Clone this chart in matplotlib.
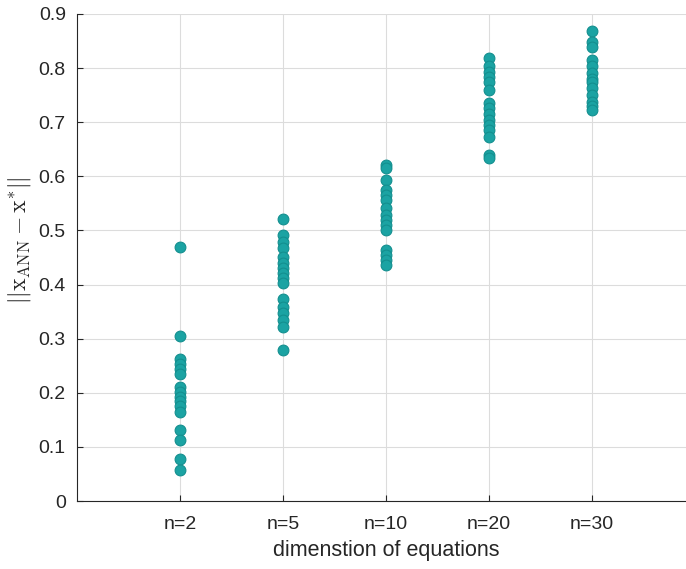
import matplotlib
matplotlib.use("Agg")
import matplotlib.pyplot as plt
import numpy as np

plt.rcParams["font.family"] = ["Liberation Sans", "DejaVu Sans"]
plt.rcParams["mathtext.fontset"] = "cm"

categories = ["n=2", "n=5", "n=10", "n=20", "n=30"]

err_n2 = [0.470, 0.305, 0.262, 0.254, 0.244, 0.234, 0.211, 0.202, 0.193,
          0.185, 0.176, 0.165, 0.131, 0.113, 0.077, 0.057]
err_n5 = [0.522, 0.492, 0.479, 0.467, 0.451, 0.439, 0.430, 0.421, 0.412,
          0.402, 0.373, 0.359, 0.347, 0.334, 0.322, 0.279]
err_n10 = [0.621, 0.615, 0.593, 0.575, 0.566, 0.556, 0.541, 0.529, 0.519,
           0.510, 0.501, 0.464, 0.455, 0.445, 0.436]
err_n20 = [0.818, 0.803, 0.793, 0.784, 0.775, 0.760, 0.735, 0.726, 0.716,
           0.704, 0.695, 0.686, 0.673, 0.640, 0.633]
err_n30 = [0.868, 0.848, 0.838, 0.815, 0.803, 0.790, 0.780, 0.775, 0.763,
           0.750, 0.738, 0.730, 0.723]

series = [err_n2, err_n5, err_n10, err_n20, err_n30]

fig = plt.figure(figsize=(6.86, 5.69), dpi=100)
ax = fig.add_axes([0.1122, 0.1195, 0.901, 0.856])

for i, vals in enumerate(series):
    ax.scatter(np.full(len(vals), i + 1), vals, s=60, color="#1ba3a3",
               edgecolor="#138f8f", linewidth=0.8, zorder=3)

ax.set_xlim(0, 6)
ax.set_ylim(0, 0.9)
ax.set_xticks(range(1, 6))
ax.set_xticklabels(categories)
ax.set_yticks(np.arange(0, 0.91, 0.1))
ax.set_yticklabels(["0", "0.1", "0.2", "0.3", "0.4", "0.5", "0.6", "0.7", "0.8", "0.9"])
ax.tick_params(direction="in", labelsize=14, colors="#262626", length=4)
ax.tick_params(axis="y", pad=8)
ax.tick_params(axis="x", pad=11)
ax.grid(True, color="#dcdcdc", linewidth=0.8, zorder=0)
ax.set_axisbelow(True)
for side in ["left", "bottom"]:
    ax.spines[side].set_color("#262626")
    ax.spines[side].set_linewidth(0.8)
for side in ["top", "right"]:
    ax.spines[side].set_visible(False)

ax.set_xlabel("dimenstion of equations", fontsize=15.5, color="#262626",
              labelpad=5)
ax.set_ylabel(r"$||\mathrm{x}_{\mathrm{ANN}}-\mathrm{x}^{*}||$", fontsize=17,
              color="#262626")
ax.yaxis.set_label_coords(-0.071, 0.535)

fig.savefig("out.png", dpi=100)
